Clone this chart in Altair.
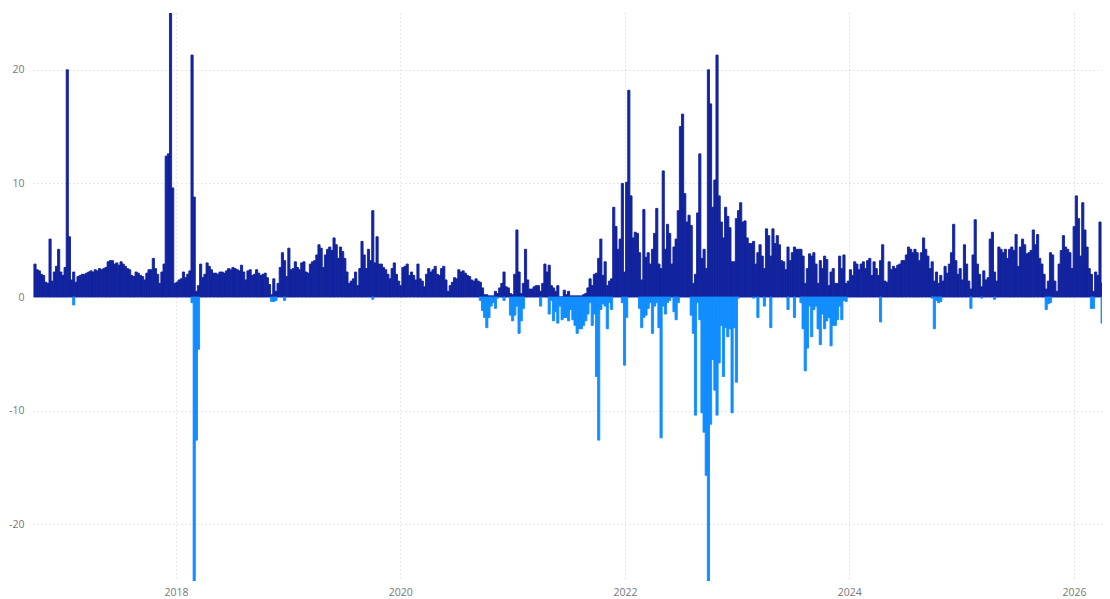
import altair as alt
import pandas as pd

# ---- axis / range definitions ----
FIRST_WEEK = "2016-09-26"      # start of first weekly bar
X_START = "2016-09-23"
X_END = "2026-04-02"
TICK_YEARS = [2018, 2020, 2022, 2024, 2026]
Y_TICKS = [-20, -10, 0, 10, 20]
Y_DOMAIN = [-25, 25]

POS_COLOR = "#12239E"
NEG_COLOR = "#118DFF"

# ---- weekly positive values ----
pos_b0 = [2.9, 2.4, 2.3, 2.0, 1.9, 1.3, 1.2, 5.1, 1.4, 2.2, 2.7, 4.2, 2.2, 1.9, 2.6, 20.0, 5.3, 1.5, 2.2, 1.3,
          1.8, 1.9, 2.0, 2.0, 2.1, 2.2, 2.3, 2.2, 2.4, 2.3, 2.5, 2.4, 2.5, 2.6, 3.1, 3.2, 3.2, 2.9, 3.0, 2.8,
          3.1, 2.9, 2.7, 2.5, 2.4, 1.9, 1.8, 2.2, 2.1, 1.9]
pos_b1 = [1.8, 1.5, 2.1, 2.4, 2.4, 3.4, 2.5, 2.0, 1.2, 2.2, 2.9, 12.4, 12.6, 26.0, 9.6, 1.2, 1.3, 1.5, 1.6, 2.2,
          1.7, 2.0, 2.3, 21.3, 8.8, 0.5, 1.0, 2.9, 1.7, 2.0, 3.0, 2.7, 2.4, 2.1, 2.1, 2.0, 2.2, 2.2, 2.1, 2.3,
          2.5, 2.4, 2.6, 2.5, 2.4, 2.3, 2.8, 2.2, 1.5, 2.3]
pos_b2 = [2.4, 1.9, 2.0, 2.4, 2.1, 1.9, 2.0, 2.1, 1.7, 1.1, 0.2, 1.6, 0.5, 1.2, 2.6, 3.9, 3.2, 1.8, 4.3, 2.4,
          2.5, 3.1, 2.6, 2.4, 3.0, 3.1, 2.2, 2.1, 2.9, 3.1, 3.2, 3.7, 4.6, 4.3, 2.6, 3.7, 4.2, 4.4, 4.1, 5.2,
          4.6, 3.4, 4.4, 4.0, 3.4, 2.2, 1.2, 1.4, 1.6, 2.2]
pos_b3 = [1.0, 2.5, 4.9, 3.7, 2.5, 4.2, 3.2, 7.6, 3.0, 5.3, 2.9, 2.9, 2.6, 2.4, 2.0, 1.6, 2.5, 3.0, 2.0, 1.4,
          1.0, 2.6, 2.7, 2.9, 1.9, 2.2, 1.9, 1.5, 2.9, 1.6, 1.4, 0.9, 2.0, 2.5, 2.2, 2.4, 2.7, 2.0, 1.9, 2.5,
          2.7, 1.5, 0.5, 1.0, 1.3, 1.7, 1.6, 2.4, 2.2, 2.3]
pos_b4 = [2.1, 1.9, 1.8, 1.5, 1.4, 1.6, 1.4, 1.3, 0.8, 0.2, 0.2, 0.1, 0.1, 0.1, 0.5, 0.3, 0.8, 1.2, 2.2, 0.9,
          0.8, 0.3, 0.2, 2.0, 5.9, 2.2, 0.3, 1.2, 4.2, 1.5, 0.7, 0.7, 0.9, 1.0, 1.0, 0.5, 1.2, 2.9, 2.2, 2.8,
          1.0, 0.8, 0.5, 1.0, 0.0, 0.0, 0.6, 0.2, 0.5, 0.1]
pos_b5 = [0.1, 0.1, 0.1, 0.1, 0.1, 0.2, 0.3, 0.8, 1.6, 1.0, 2.0, 2.1, 3.4, 5.1, 1.9, 3.1, 1.0, 1.4, 1.6, 7.9,
          6.2, 4.2, 5.1, 10.0, 2.2, 10.1, 18.2, 8.9, 5.2, 5.7, 5.6, 3.9, 1.5, 7.7, 3.5, 3.9, 2.9, 4.2, 5.6, 7.8,
          2.9, 2.5, 11.1, 4.2, 6.4, 5.6, 2.9, 4.4, 5.1, 7.6]
pos_b6 = [15.0, 16.1, 9.1, 6.6, 7.2, 6.3, 1.2, 2.0, 7.4, 12.6, 3.4, 4.2, 2.5, 20.0, 17.0, 7.9, 10.3, 21.3, 8.9, 6.6,
          5.2, 7.9, 7.1, 6.1, 3.1, 3.1, 6.9, 7.6, 8.3, 6.6, 6.7, 5.2, 4.7, 4.7, 4.9, 2.9, 3.9, 4.6, 3.6, 2.5,
          6.0, 5.4, 3.6, 6.0, 4.7, 5.4, 4.6, 3.2, 3.1, 2.4]
pos_b7 = [4.4, 3.2, 3.9, 4.4, 4.2, 4.2, 4.2, 3.6, 1.2, 2.5, 3.8, 3.6, 3.9, 2.9, 1.2, 3.2, 2.5, 3.6, 3.3, 1.0,
          2.2, 2.5, 1.2, 1.2, 3.6, 2.5, 3.7, 1.2, 1.4, 2.4, 1.9, 3.1, 2.9, 2.4, 2.9, 3.1, 2.5, 3.2, 3.4, 1.9,
          3.1, 2.5, 1.9, 3.2, 4.6, 1.4, 1.3, 3.1, 2.4, 2.7]
pos_b8 = [2.5, 2.8, 2.9, 3.2, 3.2, 3.7, 4.4, 4.2, 3.9, 4.2, 3.9, 3.2, 3.9, 5.2, 4.2, 3.6, 2.5, 3.1, 1.4, 2.2,
          1.2, 1.9, 1.4, 2.7, 2.1, 2.9, 3.9, 6.4, 3.2, 2.0, 2.5, 1.5, 4.6, 2.9, 1.4, 0.7, 3.7, 6.8, 2.9, 2.0,
          0.9, 2.3, 1.5, 1.7, 5.1, 5.7, 2.2, 1.4, 4.4, 4.2]
pos_b9 = [3.9, 4.2, 3.4, 4.2, 4.4, 4.1, 5.5, 2.7, 4.4, 5.1, 4.6, 3.8, 3.9, 4.1, 5.9, 4.6, 5.5, 3.4, 2.9, 2.0,
          0.7, 1.4, 3.9, 3.7, 1.4, 0.5, 2.9, 4.1, 5.4, 4.4, 4.2, 3.9, 2.5, 6.2, 8.9, 6.9, 3.6, 8.3, 5.9, 4.4,
          2.5, 2.0, 0.5, 2.2, 1.9, 6.6, 1.2, 2.5, 4.1, 1.9]

# ---- weekly negative values: (week index, value) ----
neg_idx_a = [18, 73, 74, 75, 76, 110, 111, 112, 116, 157, 207, 208, 209, 210, 211, 212, 213, 214, 215, 218,
             221, 222, 223, 224, 225, 226, 227, 235, 239, 240, 241, 242, 243, 244, 245, 246, 247, 248, 249]
neg_val_a = [-0.7, -0.5, -26.0, -12.6, -4.6, -0.4, -0.4, -0.3, -0.3, -0.2, -0.3, -1.2, -1.8, -2.7, -1.8, -0.8,
             -0.5, -1.0, -0.1, -0.3, -1.6, -2.1, -1.6, -0.8, -3.2, -2.1, -1.0, -0.8, -1.5, -0.3, -2.1, -1.3,
             -2.3, -0.8, -2.0, -1.8, -1.8, -2.1, -1.1]
neg_idx_b = [250, 251, 252, 253, 254, 255, 256, 257, 258, 259, 260, 261, 262, 263, 264, 265, 266, 267, 268,
             273, 274, 275, 281, 282, 283, 284, 285, 286, 287, 288, 289, 290, 291, 292, 293, 294, 295, 297,
             298, 299]
neg_val_b = [-2.0, -2.5, -3.2, -2.8, -2.8, -2.5, -2.1, -1.5, -0.5, -2.5, -1.5, -7.0, -12.6, -1.1, -0.6, -0.8,
             -2.8, -0.5, -1.1, -0.5, -6.0, -1.8, -1.0, -2.7, -1.8, -1.6, -1.0, -0.5, -3.2, -0.8, -0.5, -2.7,
             -12.4, -0.8, -1.5, -0.5, -0.3, -1.3, -2.0, -0.5]
neg_idx_c = [305, 306, 307, 308, 309, 310, 311, 312, 313, 314, 315, 316, 317, 318, 319, 320, 321, 322, 323,
             324, 325, 326, 327, 334, 336, 339, 342, 350, 353]
neg_val_c = [-1.6, -3.2, -10.4, -0.5, -2.0, -10.2, -11.9, -15.7, -26.0, -11.2, -5.5, -8.2, -10.4, -5.8, -2.5,
             -7.0, -2.7, -3.5, -2.8, -10.2, -2.7, -7.5, -0.1, -0.1, -1.8, -0.8, -2.7, -1.1, -1.8]
neg_idx_d = [356, 357, 358, 359, 360, 361, 362, 363, 364, 365, 366, 367, 368, 369, 370, 371, 372, 373, 374,
             375, 376, 377, 393, 417, 418, 419, 420, 421, 435, 440, 446, 470, 471, 472, 491, 492, 496, 497,
             498, 499]
neg_val_d = [-0.5, -2.8, -6.5, -4.5, -0.8, -3.5, -1.1, -0.8, -2.8, -4.2, -1.5, -2.8, -2.1, -1.8, -4.3, -2.5,
             -2.5, -2.0, -0.8, -2.0, -0.3, -0.4, -2.2, -0.1, -2.8, -0.3, -0.5, -0.4, -1.0, -0.1, -0.2, -1.1,
             -0.6, -0.5, -1.0, -1.0, -2.3, -1.2, -0.7, -1.3]


def ms(s):
    return int(pd.Timestamp(s, tz="UTC").value // 10**6)


WEEK_MS = 7 * 24 * 3600 * 1000
base = ms(FIRST_WEEK)

pos_all = pos_b0 + pos_b1 + pos_b2 + pos_b3 + pos_b4 + pos_b5 + pos_b6 + pos_b7 + pos_b8 + pos_b9
neg_idx = neg_idx_a + neg_idx_b + neg_idx_c + neg_idx_d
neg_val = neg_val_a + neg_val_b + neg_val_c + neg_val_d

rows = []
for i, v in enumerate(pos_all):
    rows.append({"t0": base + i * WEEK_MS, "t1": base + (i + 1) * WEEK_MS, "lo": 0.0, "hi": v, "kind": "pos"})
for i, v in zip(neg_idx, neg_val):
    rows.append({"t0": base + i * WEEK_MS, "t1": base + (i + 1) * WEEK_MS, "lo": v, "hi": 0.0, "kind": "neg"})
df = pd.DataFrame(rows)

label_style = dict(labelColor="#777777", labelFont="Open Sans", labelFontSize=10.5)
grid_style = dict(grid=True, gridDash=[1, 3], gridColor="#cfcfcf", gridWidth=1)

color_scale = alt.Scale(domain=["pos", "neg"], range=[POS_COLOR, NEG_COLOR])

chart = alt.Chart(df).mark_rect(clip=True, strokeWidth=0.9).encode(
    x=alt.X("t0:T",
            scale=alt.Scale(type="utc", domain=[ms(X_START), ms(X_END)]),
            axis=alt.Axis(values=[ms(f"{y}-01-01") for y in TICK_YEARS], format="%Y", formatType="utc",
                          title=None, domain=False, ticks=False, tickSize=0, labelPadding=6,
                          **grid_style, **label_style)),
    x2="t1:T",
    y=alt.Y("lo:Q",
            scale=alt.Scale(domain=Y_DOMAIN, nice=False, zero=False),
            axis=alt.Axis(values=Y_TICKS, title=None, domain=False, ticks=False, tickSize=0, labelPadding=9,
                          labelExpr="'' + datum.value", **grid_style, **label_style)),
    y2="hi:Q",
    color=alt.Color("kind:N", scale=color_scale, legend=None),
    stroke=alt.Stroke("kind:N", scale=color_scale, legend=None),
).properties(
    width=1069,
    height=568,
    padding={"left": 25, "top": 5, "right": 0, "bottom": 18},
    autosize=alt.AutoSizeParams(type="none"),
).configure_view(strokeWidth=0)

chart.save("out.html", embed_options={"renderer": "svg", "actions": False})
